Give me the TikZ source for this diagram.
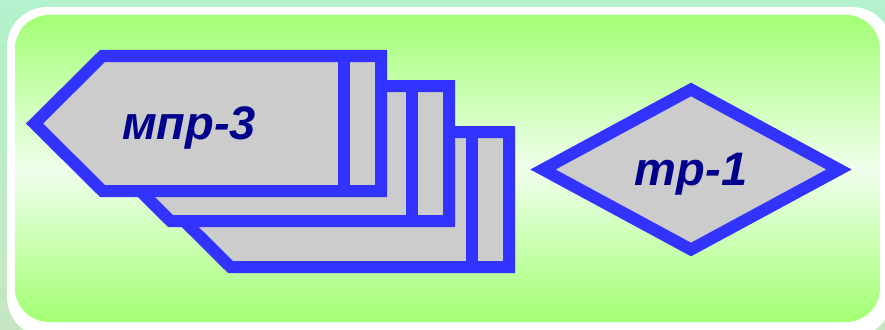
\documentclass[tikz,border=0pt]{standalone}
\usepackage{fontspec}
\setmainfont{Liberation Sans}
\usetikzlibrary{shapes.geometric}
\definecolor{Mint}{HTML}{B2F2CC}
\definecolor{Sage}{HTML}{C6E6C2}
\definecolor{Lime}{HTML}{A2FF74}
\definecolor{Pale}{HTML}{F0FFEC}
\definecolor{Edge}{HTML}{3333FF}
\definecolor{Card}{HTML}{CCCCCC}
\definecolor{Ink}{HTML}{00008C}

\begin{document}
\begin{tikzpicture}[x=1pt,y=-1pt,
  every node/.style={font=\fontsize{47}{50}\selectfont\bfseries\itshape,text=Ink,text depth=0pt},
  card/.style={draw=Edge,fill=Card,line width=12pt,miter limit=10},
  rhomb/.style={diamond,draw=Edge,fill=Card,line width=12pt,inner sep=0pt,minimum width=301pt,minimum height=165pt}
]
\useasboundingbox (0,0) rectangle (885,329);
\shade[top color=Mint,bottom color=Sage] (0,0) rectangle (885,329);
\fill[white,rounded corners=40pt] (7,7) rectangle (892,337);
\shade[top color=Lime,bottom color=Lime,middle color=Pale,rounded corners=34pt] (15,15) rectangle (880,322);
% stack of cards, back to front
\foreach \dx/\dy in {128/76,68/30,0/0}{
  \begin{scope}[shift={(\dx,\dy)}]
  \draw[card] (34.5,123.5) -- (102.5,56) -- (381,56) -- (381,191) -- (102.5,191) -- cycle;
  \draw[card,fill=none] (343.5,56) -- (343.5,191);
  \end{scope}
}
\node (mpr) at (189,123) {мпр-3};
\node[rhomb] (tr) at (691,169.5) {mp-1};
\end{tikzpicture}
\end{document}
